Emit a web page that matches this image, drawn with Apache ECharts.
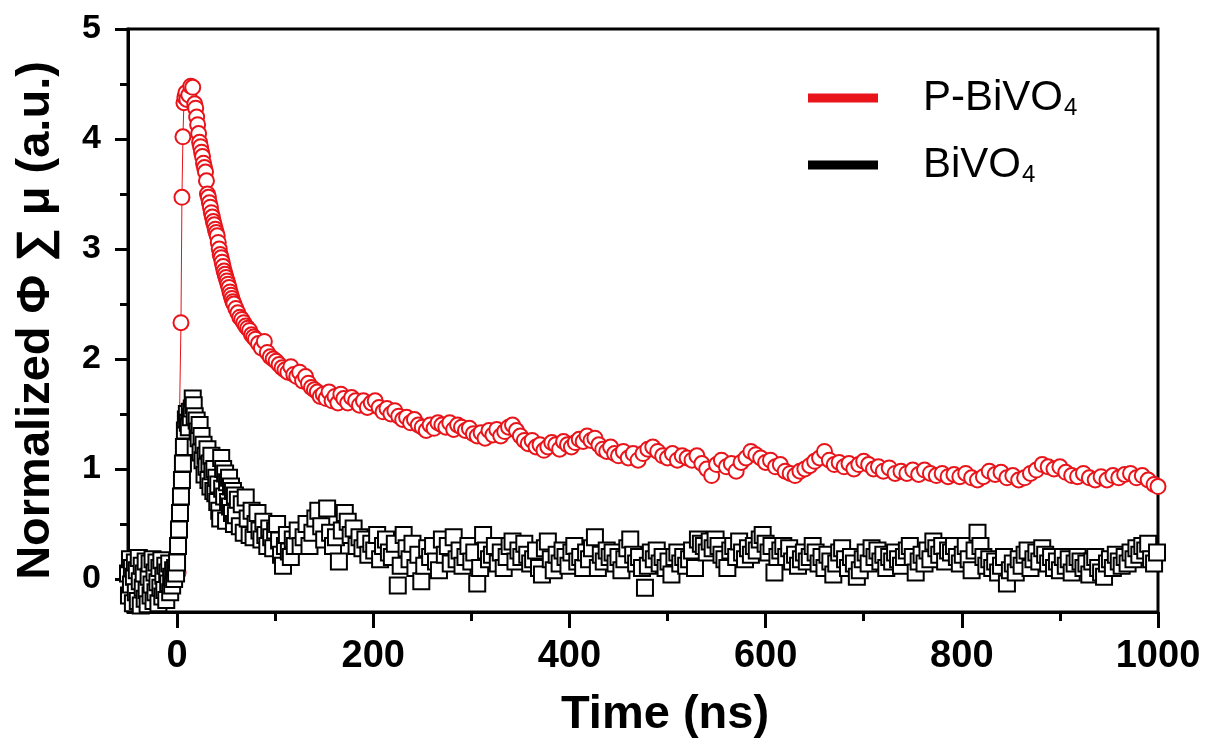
<!DOCTYPE html>
<html>
<head>
<meta charset="utf-8">
<script src="https://cdn.jsdelivr.net/npm/echarts@6/dist/echarts.min.js"></script>
<style>html,body{margin:0;padding:0;background:#fff;}#c{width:1213px;height:746px;}</style>
</head>
<body>
<div id="c"></div>
<script>
// ---- Data ----
const xTickValues = [0, 200, 400, 600, 800, 1000];
const xMinorTickValues = [100, 300, 500, 700, 900];
const yTickValues = [0, 1, 2, 3, 4, 5];
const yMinorTickValues = [0.5, 1.5, 2.5, 3.5, 4.5];

const seriesNames = ['P-BiVO4', 'BiVO4'];

const pBiVO4 = [
[-3,0.02],[0,0.05],[1,0.06],[4,2.33],[5,3.47],[6,4.02],[7,4.33],[8,4.38],[9,4.42],[10,4.36],[12,4.40],[14,4.48],[16,4.47],[18,4.32],[19,4.28],[20,4.20],[21,4.13],[22,4.05],[23,3.97],[24,3.93],[25,3.88],[26,3.84],[27,3.78],[28,3.74],[29,3.70],[30,3.62],[31,3.50],[32,3.47],[33,3.42],[34,3.38],[35,3.33],[36,3.29],[37,3.25],[38,3.22],[39,3.18],[40,3.15],[41,3.12],[42,3.06],[43,3.00],[44,2.95],[45,2.92],[46,2.88],[47,2.84],[48,2.80],[49,2.77],[50,2.74],[51,2.71],[52,2.68],[53,2.65],[54,2.61],[55,2.58],[56,2.55],[57,2.52],[58,2.50],[60,2.46],[62,2.42],[64,2.38],[66,2.36],[68,2.33],[70,2.30],[72,2.28],[74,2.26],[76,2.22],[78,2.20],[80,2.18],[83,2.14],[86,2.10],[89,2.16],[92,2.06],[95,2.02],[98,2.00],[101,1.98],[104,1.95],[107,1.92],[110,1.90],[113,1.88],[116,1.93],[119,1.86],[122,1.84],[125,1.88],[128,1.80],[131,1.84],[134,1.78],[137,1.74],[140,1.72],[143,1.70],[146,1.66],[149,1.68],[152,1.64],[155,1.70],[158,1.62],[161,1.66],[164,1.60],[167,1.68],[170,1.64],[174,1.60],[178,1.65],[182,1.62],[186,1.58],[190,1.62],[194,1.56],[198,1.60],[202,1.62],[206,1.56],[210,1.52],[214,1.55],[218,1.50],[222,1.53],[226,1.48],[230,1.45],[234,1.47],[238,1.42],[242,1.45],[246,1.40],[250,1.38],[254,1.35],[258,1.40],[262,1.37],[266,1.42],[270,1.40],[274,1.38],[278,1.42],[282,1.36],[286,1.40],[290,1.38],[294,1.35],[298,1.37],[302,1.32],[306,1.30],[310,1.33],[314,1.28],[318,1.35],[322,1.31],[326,1.36],[330,1.30],[334,1.34],[338,1.38],[342,1.40],[346,1.35],[350,1.30],[354,1.26],[358,1.23],[362,1.26],[366,1.20],[370,1.22],[374,1.17],[378,1.20],[382,1.24],[386,1.22],[390,1.18],[394,1.25],[398,1.22],[402,1.20],[406,1.24],[410,1.27],[414,1.25],[418,1.30],[422,1.26],[426,1.28],[430,1.22],[434,1.18],[438,1.16],[442,1.20],[446,1.14],[450,1.12],[455,1.16],[460,1.10],[465,1.14],[470,1.08],[475,1.14],[480,1.18],[485,1.20],[490,1.16],[495,1.12],[500,1.10],[505,1.14],[510,1.08],[515,1.12],[520,1.10],[525,1.08],[530,1.12],[535,1.05],[540,1.00],[545,0.94],[550,1.04],[555,1.08],[560,1.02],[565,1.05],[570,0.98],[575,1.06],[580,1.10],[585,1.16],[590,1.13],[595,1.10],[600,1.06],[605,1.08],[610,1.02],[615,1.04],[620,0.98],[625,0.96],[630,0.94],[635,0.98],[640,1.00],[645,1.03],[650,1.07],[655,1.10],[660,1.16],[665,1.08],[670,1.04],[675,1.06],[680,1.02],[685,1.05],[690,1.00],[695,1.04],[700,1.07],[705,1.04],[710,1.00],[715,1.02],[720,0.98],[726,1.01],[732,0.96],[738,0.98],[744,0.96],[750,0.99],[756,0.95],[762,0.99],[768,0.96],[774,0.94],[780,0.96],[786,0.93],[792,0.95],[798,0.93],[804,0.96],[810,0.92],[816,0.90],[822,0.93],[828,0.98],[834,0.95],[840,0.97],[846,0.92],[852,0.94],[858,0.90],[864,0.92],[870,0.96],[876,0.99],[882,1.04],[888,1.02],[894,1.00],[900,1.02],[906,0.97],[912,0.94],[918,0.93],[924,0.96],[930,0.92],[936,0.90],[942,0.93],[948,0.90],[954,0.94],[960,0.92],[966,0.95],[972,0.96],[978,0.92],[984,0.94],[990,0.90],[996,0.86],[1000,0.84]
];

const bBiVO4 = [
[-50,0.05],[-49,-0.15],[-48,0.18],[-47,-0.05],[-46,0.10],[-45,-0.22],[-44,0.02],[-43,0.15],[-42,-0.12],[-41,0.08],[-40,-0.20],[-39,0.19],[-38,-0.02],[-37,-0.24],[-36,0.12],[-35,-0.08],[-34,0.05],[-33,-0.18],[-32,0.16],[-31,-0.10],[-30,-0.23],[-29,0.02],[-28,0.14],[-27,-0.15],[-26,-0.05],[-25,0.18],[-24,-0.20],[-23,0.06],[-22,-0.12],[-21,0.15],[-20,-0.03],[-19,-0.22],[-18,0.10],[-17,-0.08],[-16,0.17],[-15,-0.16],[-14,0.03],[-13,-0.10],[-12,0.12],[-11,-0.19],[-10,0.06],[-9,-0.04],[-8,0.14],[-7,-0.12],[-6,0.02],[-5,-0.06],[-4,0.08],[-3,0.00],[-2,0.10],[-1,0.05],
[0,0.15],[1,0.30],[2,0.45],[3,0.60],[4,0.75],[5,0.90],[6,1.05],[7,1.20],[8,1.35],[9,1.45],[10,1.50],[11,1.42],[12,1.38],[13,1.52],[14,1.47],[15,1.55],[16,1.64],[17,1.58],[18,1.48],[19,1.20],[20,1.44],[21,1.34],[22,1.28],[23,1.40],[24,1.15],[25,1.30],[26,1.08],[27,1.22],[28,0.95],[29,1.12],[30,1.02],[31,1.18],[32,0.90],[33,1.05],[34,0.84],[35,1.12],[36,0.98],[37,0.80],[38,1.00],[39,0.78],[40,0.92],[41,0.70],[42,0.86],[43,0.62],[44,0.55],[45,1.10],[46,0.82],[47,1.00],[48,0.75],[49,0.96],[50,0.53],[51,0.88],[52,0.70],[53,0.92],[54,0.66],[55,0.84],[56,0.60],[57,0.80],[58,0.50],[59,0.76],[60,0.58],[62,0.72],[64,0.48],[66,0.68],[68,0.42],[70,0.74],[72,0.55],[74,0.40],[76,0.62],[78,0.38],[80,0.50],[82,0.60],[84,0.44],[86,0.36],[88,0.52],[90,0.40],[92,0.30],[94,0.46],[96,0.38],[98,0.28],[100,0.44],[102,0.50],[104,0.35],[106,0.22],[108,0.12],[110,0.30],[112,0.40],[114,0.25],[116,0.20],[118,0.36],[120,0.30],[123,0.44],[126,0.30],[129,0.38],[132,0.50],[135,0.30],[138,0.42],[141,0.55],[144,0.62],[147,0.48],[150,0.36],[153,0.64],[156,0.42],[159,0.30],[162,0.38],[165,0.16],[168,0.44],[171,0.60],[174,0.52],[177,0.40],[180,0.46],[183,0.30],[186,0.38],[189,0.28],[192,0.36],[195,0.22],[198,0.32],[201,0.26],[204,0.40],[207,0.18],[210,0.30],[213,0.36],[216,0.24],[219,0.20],[222,0.32],[225,-0.06],[228,0.12],[231,0.40],[234,0.28],[237,0.18],[240,0.32],[243,0.10],[246,0.22],[249,-0.02],[252,0.12],[255,0.28],[258,0.20],[261,0.30],[264,0.16],[267,0.08],[270,0.36],[273,0.22],[276,0.30],[279,0.14],[282,0.38],[285,0.18],[288,0.26],[291,0.12],[294,0.20],[297,0.30],[300,0.16],[303,0.24],[306,-0.04],[309,0.10],[312,0.40],[315,0.26],[318,0.18],[321,0.22],[324,0.30],[327,0.14],[330,0.24],[333,0.10],[336,0.20],[339,0.30],[342,0.34],[345,0.16],[348,0.26],[351,0.20],[354,0.32],[357,0.22],[360,0.14],[363,0.18],[366,0.26],[369,0.10],[372,0.04],[375,0.28],[378,0.34],[381,0.18],[384,0.08],[387,0.22],[390,0.14],[393,0.26],[396,0.20],[399,0.12],[402,0.24],[405,0.30],[408,0.16],[411,0.20],[414,0.10],[417,0.24],[420,0.18],[423,0.28],[426,0.38],[429,0.10],[432,0.22],[435,0.16],[438,0.26],[441,0.20],[444,0.24],[447,0.14],[450,0.20],[453,0.08],[456,0.18],[459,0.28],[462,0.36],[465,0.22],[468,0.14],[471,0.20],[474,0.10],[477,-0.08],[480,0.12],[483,0.24],[486,0.18],[489,0.26],[492,0.14],[495,0.20],[498,0.10],[501,0.16],[504,0.04],[507,0.20],[510,0.24],[513,0.14],[516,0.20],[519,0.12],[522,0.18],[525,0.26],[528,0.10],[531,0.36],[534,0.32],[537,0.30],[540,0.24],[543,0.34],[546,0.28],[549,0.36],[552,0.30],[555,0.22],[558,0.18],[561,0.10],[564,0.26],[567,0.30],[570,0.20],[573,0.34],[576,0.24],[579,0.18],[582,0.28],[585,0.22],[588,0.30],[591,0.26],[594,0.36],[597,0.40],[600,0.32],[603,0.24],[606,0.30],[609,0.06],[612,0.20],[615,0.26],[618,0.30],[621,0.20],[624,0.28],[627,0.16],[630,0.22],[633,0.12],[636,0.18],[639,0.24],[642,0.16],[645,0.20],[648,0.30],[651,0.24],[654,0.14],[657,0.20],[660,0.10],[663,0.22],[666,0.16],[669,0.04],[672,0.14],[675,0.24],[678,0.28],[681,0.18],[684,0.10],[687,0.20],[690,0.14],[693,0.02],[696,0.08],[699,0.18],[702,0.24],[705,0.14],[708,0.28],[711,0.20],[714,0.26],[717,0.16],[720,0.22],[723,0.10],[726,0.20],[729,0.16],[732,0.24],[735,0.18],[738,0.12],[741,0.20],[744,0.26],[747,0.30],[750,0.20],[753,0.06],[756,0.16],[759,0.22],[762,0.14],[765,0.26],[768,0.18],[771,0.34],[774,0.28],[777,0.22],[780,0.30],[783,0.16],[786,0.26],[789,0.24],[792,0.30],[795,0.20],[798,0.14],[801,0.22],[804,0.30],[807,0.18],[810,0.08],[813,0.26],[816,0.42],[819,0.30],[822,0.20],[825,0.12],[828,0.18],[831,0.10],[834,0.16],[837,0.06],[840,0.12],[843,0.20],[846,-0.04],[849,0.08],[852,0.14],[855,0.06],[858,0.18],[861,0.12],[864,0.22],[867,0.26],[870,0.10],[873,0.18],[876,0.24],[879,0.16],[882,0.28],[885,0.22],[888,0.14],[891,0.20],[894,0.10],[897,0.16],[900,0.08],[903,0.20],[906,0.12],[909,0.18],[912,0.06],[915,0.14],[918,0.20],[921,0.16],[924,0.10],[927,0.14],[930,0.04],[933,0.16],[936,0.20],[939,0.10],[942,0.06],[945,0.02],[948,0.14],[951,0.18],[954,0.10],[957,0.22],[960,0.16],[963,0.12],[966,0.20],[969,0.14],[972,0.24],[975,0.18],[978,0.28],[981,0.22],[984,0.30],[987,0.26],[990,0.32],[993,0.18],[996,0.14],[999,0.24]
];

const RED = '#e8141a';
const FONT = '"Liberation Sans", Arial, sans-serif';

const chart = echarts.init(document.getElementById('c'), null, {renderer: 'canvas'});
const option = {
  backgroundColor: '#fff',
  animation: false,
  grid: {left: 128, top: 29, width: 1030, height: 583, show: true, borderColor: '#000', borderWidth: 3, backgroundColor: 'transparent'},
  legend: {
    left: 803, top: 72, orient: 'vertical', itemGap: 24,
    icon: 'rect', itemWidth: 70, itemHeight: 9,
    data: [
      {name: seriesNames[0], itemStyle: {color: RED, borderWidth: 0}},
      {name: seriesNames[1], itemStyle: {color: '#000', borderWidth: 0}}
    ],
    formatter: function (n) { return '{a|' + n.slice(0, -1) + '}{s|' + n.slice(-1) + '}'; },
    textStyle: {
      padding: [0, 0, 0, 40],
      rich: {
        a: {fontFamily: FONT, fontSize: 42, color: '#000'},
        s: {fontFamily: FONT, fontSize: 24, color: '#000', padding: [20, 0, 0, 1]}
      }
    }
  },
  xAxis: [{
    type: 'value', min: -50, max: 1000, position: 'bottom',
    name: 'Time (ns)', nameLocation: 'middle', nameGap: 80,
    nameTextStyle: {fontFamily: FONT, fontSize: 47, fontWeight: 'bold', color: '#000', padding: [0, 0, 0, 44]},
    axisLine: {show: true, onZero: false, lineStyle: {color: '#000', width: 3}},
    axisTick: {show: true, inside: false, length: 16, customValues: xTickValues, lineStyle: {color: '#000', width: 3}},
    axisLabel: {customValues: xTickValues, margin: 26, fontFamily: FONT, fontSize: 38, fontWeight: 'bold', color: '#000',
      formatter: function (v) { return String(v); }},
    splitLine: {show: false}
  }, {
    type: 'value', min: -50, max: 1000, position: 'bottom', gridIndex: 0,
    axisLine: {show: false, onZero: false},
    axisTick: {show: true, inside: false, length: 9, customValues: xMinorTickValues, lineStyle: {color: '#000', width: 3}},
    axisLabel: {show: false},
    splitLine: {show: false}
  }],
  yAxis: [{
    type: 'value', min: -0.3, max: 5, position: 'left',
    name: 'Normalized \u03A6 \u2211 \u03BC (a.u.)', nameLocation: 'middle', nameGap: 68,
    nameTextStyle: {fontFamily: FONT, fontSize: 47, fontWeight: 'bold', color: '#000'},
    axisLine: {show: true, onZero: false, lineStyle: {color: '#000', width: 3}},
    axisTick: {show: true, inside: false, length: 13, customValues: yTickValues, lineStyle: {color: '#000', width: 3}},
    axisLabel: {customValues: yTickValues, margin: 27, fontFamily: FONT, fontSize: 34, fontWeight: 'bold', color: '#000'},
    splitLine: {show: false}
  }, {
    type: 'value', min: -0.3, max: 5, position: 'left', offset: 0, gridIndex: 0,
    axisLine: {show: false, onZero: false},
    axisTick: {show: true, inside: false, length: 8, customValues: yMinorTickValues, lineStyle: {color: '#000', width: 3}},
    axisLabel: {show: false},
    splitLine: {show: false}
  }],
  series: [{
    name: seriesNames[0], type: 'line', data: pBiVO4,
    xAxisIndex: 0, yAxisIndex: 0,
    symbol: 'emptyCircle', symbolSize: 15, showAllSymbol: true,
    itemStyle: {color: RED, borderColor: RED, borderWidth: 2.5},
    lineStyle: {color: RED, width: 1},
    z: 2
  }, {
    name: seriesNames[1], type: 'line', data: bBiVO4,
    xAxisIndex: 0, yAxisIndex: 0,
    symbol: 'emptyRect', symbolSize: 16, showAllSymbol: true,
    itemStyle: {color: '#000', borderColor: '#000', borderWidth: 2.8},
    lineStyle: {color: '#000', width: 0, opacity: 0},
    z: 3
  }]
};
chart.setOption(option);
</script>
</body>
</html>
